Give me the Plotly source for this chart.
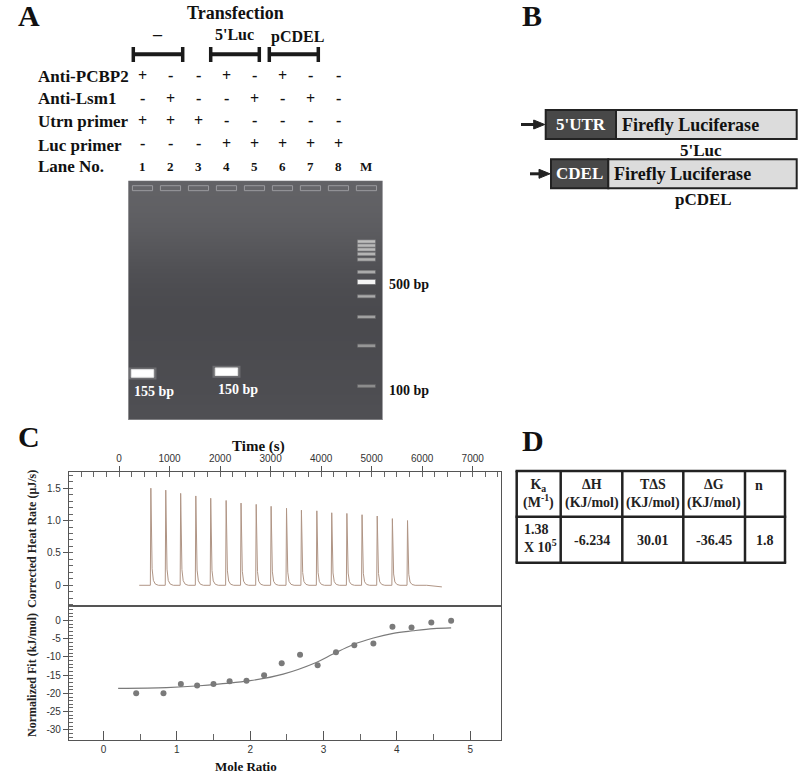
import plotly.graph_objects as go

W, H = 800, 777
SERIF = "Liberation Serif"
SANS = "Liberation Sans"


def px(x):
    return x / W


def py(y):
    return 1 - y / H


# ---------------- data: panel A (RT-PCR gel) ----------------
lanes = [1, 2, 3, 4, 5, 6, 7, 8, 9]
lane_names = ["1", "2", "3", "4", "5", "6", "7", "8", "M"]
row_names = ["Anti-PCBP2", "Anti-Lsm1", "Utrn primer", "Luc primer"]
anti_pcbp2 = ["+", "-", "-", "+", "-", "+", "-", "-"]
anti_lsm1 = ["-", "+", "-", "-", "+", "-", "+", "-"]
utrn_primer = ["+", "+", "+", "-", "-", "-", "-", "-"]
luc_primer = ["-", "-", "-", "+", "+", "+", "+", "+"]

# gel background brightness along migration distance
gel_rows = [0, 20, 40, 60, 80, 100, 120, 140, 160, 180, 200, 220, 240]
gel_level = [98, 96, 92, 86, 80, 76, 74, 74, 75, 76, 77, 79]

# sample bands (lane, migration, label)
band_lane = [1, 4]
band_mig = [193.3, 191.6]
band_label = ["155 bp", "150 bp"]

# marker ladder (migration, brightness)
ladder_mig = [61, 65, 69, 73.5, 79, 91.5, 101.5, 116, 136.6, 165.5, 206]
ladder_int = [190, 185, 185, 180, 175, 170, 245, 170, 160, 150, 140]
ladder_labels = {102.6: "500 bp", 208.3: "100 bp"}

# ---------------- data: panel C (ITC) ----------------
inj_time = [630, 925, 1220, 1520, 1815, 2120, 2415, 2715, 3010, 3315,
            3610, 3915, 4210, 4510, 4810, 5110, 5410, 5710]
inj_height = [1.50, 1.47, 1.42, 1.38, 1.345, 1.31, 1.27, 1.25, 1.22, 1.19,
              1.16, 1.15, 1.12, 1.11, 1.09, 1.07, 1.03, 1.00]
peak_offset = [-10, 0, 10, 25, 50, 90, 150]
peak_shape = [0, 1, 0.5, 0.17, 0.05, 0.012, 0]
base_start, base_end, base_end_val = 400, 6390, -0.025

mole_ratio = [0.446, 0.818, 1.055, 1.277, 1.50, 1.72, 1.95, 2.19, 2.43,
              2.68, 2.92, 3.17, 3.42, 3.68, 3.94, 4.20, 4.47, 4.74]
norm_heat = [-19.95, -19.95, -17.4, -17.8, -17.4, -16.7, -16.5, -15.0, -11.7,
             -9.4, -12.3, -8.7, -6.75, -6.3, -1.73, -1.92, -0.55, -0.08]
fit_x = [0.2, 0.86, 1.31, 2.0, 2.45, 2.9, 3.13, 3.4, 3.68, 3.95, 4.22, 4.5, 4.74]
fit_y = [-18.6, -18.4, -17.9, -16.5, -14.7, -11.5, -9.2, -6.65, -4.8, -3.5,
         -2.8, -2.2, -2.0]

# ---------------- data: panel D (thermodynamics) ----------------
tbl_header = ["K<sub>a</sub><br>(M<sup>-1</sup>)", "ΔH<br>(KJ/mol)",
              "TΔS<br>(KJ/mol)", "ΔG<br>(KJ/mol)", "n"]
tbl_values = ["1.38<br>X 10<sup>5</sup>", "-6.234", "30.01", "-36.45", "1.8"]

fig = go.Figure()
shapes = []
ann = []


def text(x, y, s, size=15, color="#111", xanchor="center", xref="paper", **kw):
    ann.append(dict(x=x, y=y, xref=xref, yref="paper", text=s, showarrow=False,
                    xanchor=xanchor, yanchor="middle",
                    font=dict(family=SERIF, size=size, color=color, weight="bold"), **kw))


# ===== Panel A =====
fig.add_trace(go.Heatmap(
    x=[0.493, 9.58], y=gel_rows, z=[[v] for v in gel_level],
    zmin=0, zmax=255, zsmooth="best", showscale=False, hoverinfo="skip",
    colorscale=[[0, "rgb(0,0,6)"], [1, "rgb(255,255,255)"]],
    xaxis="x", yaxis="y"))

shapes.append(dict(type="rect", xref="x", yref="y", x0=0.493, x1=9.58, y0=0, y1=240,
                   line=dict(color="#78787c", width=1)))
for L in lanes:
    shapes.append(dict(type="rect", xref="x", yref="y", x0=L - 0.36, x1=L + 0.36,
                       y0=5, y1=10, line=dict(color="#9a9a9e", width=1),
                       fillcolor="#66666a"))

for L, m in zip(band_lane, band_mig):
    shapes.append(dict(type="rect", xref="x", yref="y", x0=L - 0.5, x1=L + 0.5,
                       y0=m - 6, y1=m + 6, line=dict(width=0),
                       fillcolor="rgba(255,255,255,0.18)"))
    shapes.append(dict(type="rect", xref="x", yref="y", x0=L - 0.4, x1=L + 0.4,
                       y0=m - 3.8, y1=m + 3.8, line=dict(color="#e8e8e8", width=1),
                       fillcolor="#ffffff"))
for L, m, lab in zip(band_lane, band_mig, band_label):
    text(L + 0.4, py(180.7 + m + 17), lab, size=14, color="white", xref="x")

for m, v in zip(ladder_mig, ladder_int):
    h = 2.0 if v == 245 else 1.2
    shapes.append(dict(type="rect", xref="x", yref="y", x0=9 - 0.33, x1=9 + 0.33,
                       y0=m - h - 0.8, y1=m + h + 0.8, line=dict(width=0),
                       fillcolor=f"rgba({v},{v},{v},0.35)"))
    shapes.append(dict(type="rect", xref="x", yref="y", x0=9 - 0.31, x1=9 + 0.31,
                       y0=m - h, y1=m + h, line=dict(width=0),
                       fillcolor=f"rgb({v},{v},{v})"))
for m, lab in ladder_labels.items():
    text(386.7 / W, py(180.7 + m + 1), lab, size=14, xanchor="left")

text(16 / W, py(16), "A", size=30, xanchor="left")
text(235 / W, py(13), "Transfection", size=18)
text(157 / W, py(34), "–", size=18)
text(234 / W, py(35), "5'Luc", size=16)
text(297 / W, py(37), "pCDEL", size=16)
for x0, x1 in [(133.3, 182.7), (210.7, 259.3), (269.3, 318.3)]:
    shapes.append(dict(type="line", xref="paper", yref="paper", x0=px(x0), x1=px(x1),
                       y0=py(54.3), y1=py(54.3), line=dict(color="#1a1a1a", width=4)))
    for xe in (x0, x1):
        shapes.append(dict(type="line", xref="paper", yref="paper", x0=px(xe), x1=px(xe),
                           y0=py(47), y1=py(62), line=dict(color="#1a1a1a", width=3.5)))

row_y = [77, 99, 121.7, 145]
for name, yy, signs in zip(row_names, row_y, [anti_pcbp2, anti_lsm1, utrn_primer, luc_primer]):
    text(35.7 / W, py(yy), name, size=17, xanchor="left")
    for L, s in zip(lanes, signs):
        text(L, py(yy - 1), s, size=16, xref="x")
text(35.7 / W, py(166.7), "Lane No.", size=17, xanchor="left")
for L, n in zip(lanes, lane_names):
    text(L, py(167), n, size=13, xref="x")

# ===== Panel B =====
for (bx0, bsplit, bx1, by0, by1, dark_lab, name, name_x, tip) in [
        (545.7, 616, 796.7, 110, 139, "5'UTR", "5'Luc", 701, 521),
        (551, 608.3, 796.7, 159.3, 188.3, "CDEL", "pCDEL", 703, 530)]:
    shapes.append(dict(type="rect", xref="paper", yref="paper", x0=px(bx0), x1=px(bsplit),
                       y0=py(by1), y1=py(by0), fillcolor="#484848",
                       line=dict(color="#222", width=2)))
    shapes.append(dict(type="rect", xref="paper", yref="paper", x0=px(bsplit), x1=px(bx1),
                       y0=py(by1), y1=py(by0), fillcolor="#dcdcdc",
                       line=dict(color="#222", width=2)))
    yc = (by0 + by1) / 2
    text(px((bx0 + bsplit) / 2), py(yc), dark_lab, size=17, color="white")
    text(px(bsplit + 4), py(yc), "Firefly Luciferase", size=18, xanchor="left")
    text(px(name_x), py(by1 + 11), name, size=17)
    # arrow: shaft + head
    head = bx0 - 1
    shapes.append(dict(type="line", xref="paper", yref="paper", x0=px(tip), x1=px(head - 8),
                       y0=py(yc), y1=py(yc), line=dict(color="#222", width=3)))
    shapes.append(dict(type="path", xref="paper", yref="paper",
                       path=f"M {px(head - 11)} {py(yc - 4.5)} L {px(head)} {py(yc)} "
                            f"L {px(head - 11)} {py(yc + 4.5)} Z",
                       fillcolor="#222", line=dict(color="#222", width=1)))
text(520 / W, py(16), "B", size=30, xanchor="left")

# ===== Panel C =====
t_line, q_line = [base_start], [0.0]
for t, h in zip(inj_time, inj_height):
    for o, f in zip(peak_offset, peak_shape):
        t_line.append(t + o)
        q_line.append(h * f)
t_line.append(base_end - 300)
q_line.append(0.0)
t_line.append(base_end)
q_line.append(base_end_val)

fig.add_trace(go.Scatter(x=t_line, y=q_line, mode="lines", xaxis="x2", yaxis="y2",
                         line=dict(color="#b09585", width=1), hoverinfo="skip"))
fig.add_trace(go.Scatter(x=mole_ratio, y=norm_heat, mode="markers", xaxis="x3", yaxis="y3",
                         marker=dict(color="#7a7a7a", size=6)))
fig.add_trace(go.Scatter(x=fit_x, y=fit_y, mode="lines", xaxis="x3", yaxis="y3",
                         line=dict(color="#7a7a7a", width=1.2, shape="spline")))

text(16 / W, py(437), "C", size=30, xanchor="left")
text(258 / W, py(446), "Time (s)", size=15)
text(246 / W, py(766), "Mole Ratio", size=13)
for yc, lab in [(539, "Corrected Heat Rate (μJ/s)"), (675, "Normalized Fit (kJ/mol)")]:
    ann.append(dict(x=32 / W, y=py(yc), xref="paper", yref="paper", text=lab,
                    showarrow=False, textangle=-90, xanchor="center", yanchor="middle",
                    font=dict(family=SERIF, size=12, color="#222", weight="bold")))

# ===== Panel D =====
text(520 / W, py(440), "D", size=30, xanchor="left")
col_edges = [516.7, 560.7, 622.3, 683.3, 745, 785]
row_edges = [471, 516.7, 562.7]
for xe in col_edges:
    shapes.append(dict(type="line", xref="paper", yref="paper", x0=px(xe), x1=px(xe),
                       y0=py(row_edges[0]), y1=py(row_edges[-1]),
                       line=dict(color="#222", width=2.5)))
for ye in row_edges:
    shapes.append(dict(type="line", xref="paper", yref="paper", x0=px(col_edges[0]) - 0.0015,
                       x1=px(col_edges[-1]) + 0.0015, y0=py(ye), y1=py(ye),
                       line=dict(color="#222", width=2.5)))
for i, (hdr, val) in enumerate(zip(tbl_header, tbl_values)):
    xc = (col_edges[i] + col_edges[i + 1]) / 2
    if hdr == "n":
        text(px(col_edges[i] + 8), py(485), hdr, size=14, color="#222", xanchor="left")
    else:
        text(px(xc), py(494), hdr, size=14, color="#222")
    if "<br>" in val:
        text(px(col_edges[i] + 5), py(538.5), val, size=14, color="#222",
             xanchor="left", align="left")
    else:
        text(px(xc), py(540.5), val, size=14, color="#222")

tickfont = dict(family=SANS, size=10, color="#333")
axis_common = dict(showline=True, linecolor="#555", linewidth=1.2, mirror=True,
                   showgrid=False, zeroline=False, tickfont=tickfont, tickcolor="#555")

fig.update_layout(
    width=W, height=H, margin=dict(l=0, r=0, t=0, b=0),
    paper_bgcolor="white", plot_bgcolor="white", showlegend=False,
    shapes=shapes, annotations=ann,
    xaxis=dict(domain=[px(128.3), px(382.7)], range=[0.493, 9.58], visible=False,
               anchor="y"),
    yaxis=dict(domain=[py(420), py(180.7)], range=[240, 0], visible=False, anchor="x"),
    xaxis2=dict(domain=[px(69), px(501)], range=[-990, 7560], side="top", anchor="y2",
                tickvals=[0, 1000, 2000, 3000, 4000, 5000, 6000, 7000],
                ticks="outside", ticklen=5,
                minor=dict(dtick=250, ticks="inside", ticklen=5, tickcolor="#666"),
                **axis_common),
    yaxis2=dict(domain=[py(606), py(472)], range=[-0.32, 1.75], anchor="x2",
                tickvals=[0, 0.5, 1.0, 1.5], ticktext=["0", "0.5", "1.0", "1.5"],
                ticks="outside", ticklen=5,
                minor=dict(dtick=0.1, ticks="inside", ticklen=4, tickcolor="#666"),
                **axis_common),
    xaxis3=dict(domain=[px(69), px(501)], range=[-0.47, 5.42], anchor="y3",
                tickvals=[0, 1, 2, 3, 4, 5], ticks="inside", ticklen=9,
                minor=dict(dtick=0.5, ticks="inside", ticklen=6, tickcolor="#666"),
                **axis_common),
    yaxis3=dict(domain=[py(740), py(606)], range=[-32.8, 4], anchor="x3",
                tickvals=[0, -5, -10, -15, -20, -25, -30],
                ticktext=["0", "-5", "-10", "-15", "-20", "-25", "-30"],
                ticks="outside", ticklen=5,
                minor=dict(dtick=1, ticks="inside", ticklen=4, tickcolor="#666"),
                **axis_common),
)

fig.write_html("out.html", config={"displayModeBar": False},
               post_script="document.body.style.margin='0';")
